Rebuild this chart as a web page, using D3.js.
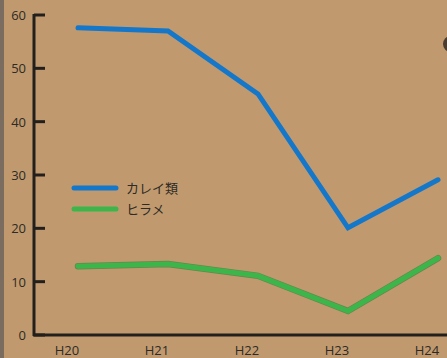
<!DOCTYPE html>
<html>
<head>
<meta charset="utf-8">
<script src="https://cdn.jsdelivr.net/npm/d3@7"></script>
<style>
  body { margin: 0; background: #c09a6e; }
  svg { display: block; }
  text { font-family: "Open Sans", "Noto Sans CJK JP", sans-serif; fill: #2e2a26; }
</style>
</head>
<body>
<div class="chart"></div>
<script>
var years = ["H20", "H21", "H22", "H23", "H24"];
var karei = [57.6, 57.0, 45.2, 20.1, 29.1];
var hirame = [12.9, 13.3, 11.1, 4.5, 14.4];
var yTicks = [0, 10, 20, 30, 40, 50, 60];
var seriesNames = ["カレイ類", "ヒラメ"];
var seriesColors = ["#1577c9", "#3cb64a"];

var width = 447, height = 358;
var svg = d3.select(".chart").append("svg")
    .attr("width", width)
    .attr("height", height);

svg.append("rect").attr("width", width).attr("height", height).attr("fill", "#c09a6e");
// left edge stripe
svg.append("rect").attr("width", 4).attr("height", height).attr("fill", "#7a6d5f");
// dark blob at right edge
svg.append("ellipse").attr("cx", 451).attr("cy", 44).attr("rx", 8).attr("ry", 8).attr("fill", "#4a3d30");

var x = d3.scalePoint().domain(years).range([78, 438]);
var y = d3.scaleLinear().domain([0, 60]).range([335, 15]);

// axes
svg.append("line").attr("x1", 34).attr("x2", 34).attr("y1", y(60) - 1).attr("y2", y(0) + 1)
    .attr("stroke", "#231f1c").attr("stroke-width", 3);
svg.append("line").attr("x1", 33).attr("x2", width).attr("y1", y(0)).attr("y2", y(0))
    .attr("stroke", "#231f1c").attr("stroke-width", 3);

var ticks = svg.append("g");
ticks.selectAll("line").data(yTicks).enter().append("line")
    .attr("x1", 34).attr("x2", 45)
    .attr("y1", d => y(d)).attr("y2", d => y(d))
    .attr("stroke", "#231f1c").attr("stroke-width", 3);
ticks.selectAll("text").data(yTicks).enter().append("text")
    .attr("x", 26).attr("y", d => y(d) + 5)
    .attr("text-anchor", "end")
    .attr("font-size", 13)
    .text(d => d);

svg.append("g").selectAll("text").data(years).enter().append("text")
    .attr("x", d => x(d) - 11).attr("y", 355)
    .attr("text-anchor", "middle")
    .attr("font-size", 13)
    .text(d => d);

var line = d3.line().x((d, i) => x(years[i])).y(d => y(d));

[karei, hirame].forEach(function (s, i) {
    if (i == 1) {
        svg.append("path").attr("d", line(s)).attr("fill", "none")
            .attr("stroke", "#2c7a36").attr("stroke-width", 6.5).attr("stroke-linecap", "round").attr("opacity", 0.6);
    }
    svg.append("path").attr("d", line(s)).attr("fill", "none")
        .attr("stroke", seriesColors[i]).attr("stroke-width", 5)
        .attr("stroke-linecap", "round").attr("stroke-linejoin", "miter");
});

var legend = svg.append("g").selectAll("g").data(seriesNames).enter().append("g")
    .attr("transform", (d, i) => "translate(0," + (188 + i * 21) + ")");
legend.append("line").attr("x1", 74).attr("x2", 116)
    .attr("stroke", (d, i) => seriesColors[i]).attr("stroke-width", 5).attr("stroke-linecap", "round");
legend.append("text").attr("x", 126).attr("y", 5).attr("font-size", 13).text(d => d);
</script>
</body>
</html>
